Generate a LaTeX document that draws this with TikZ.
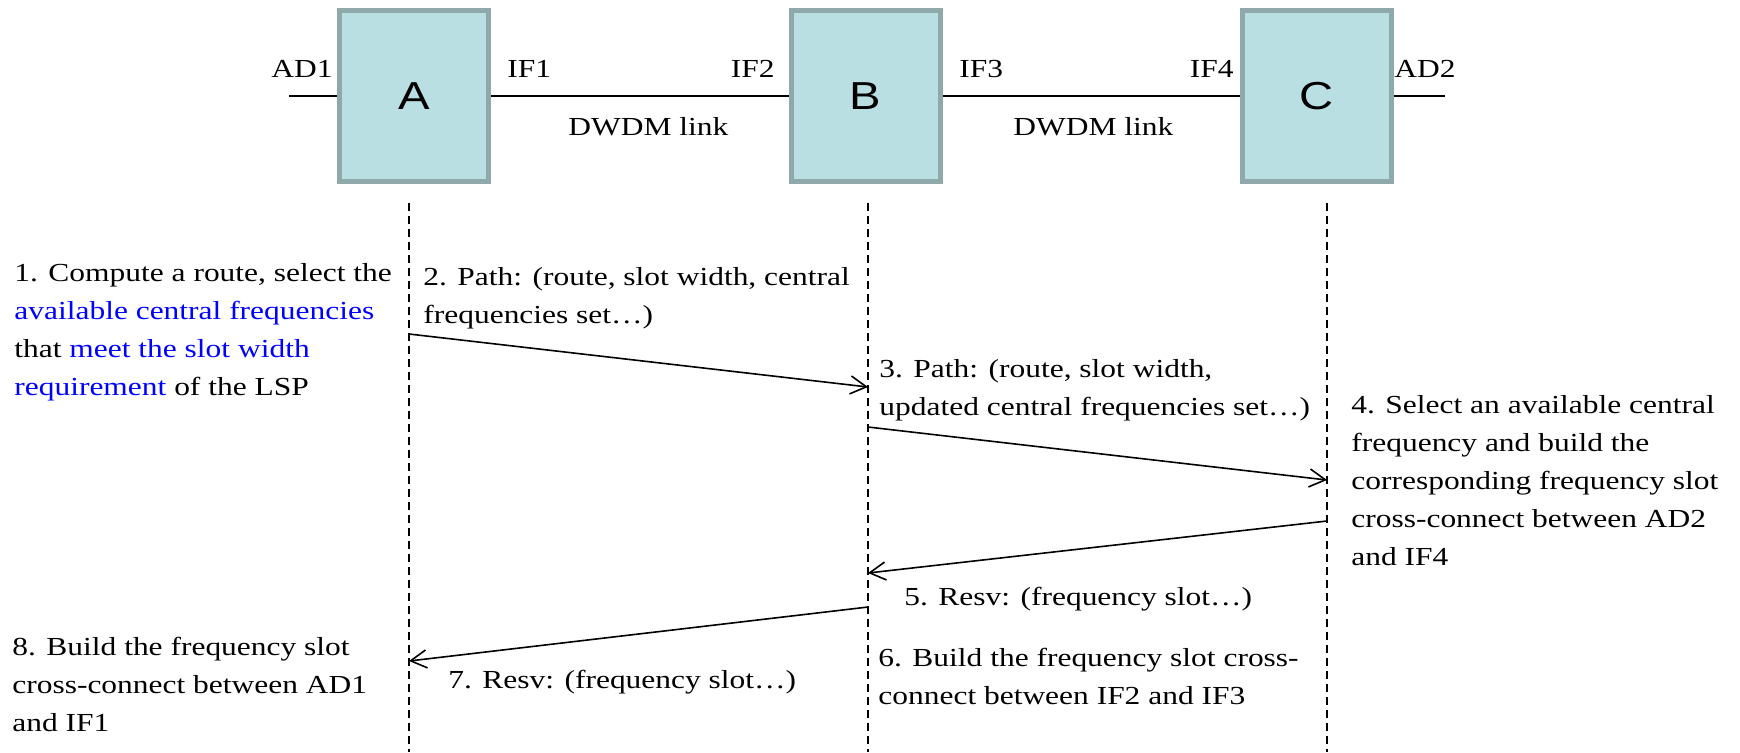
\documentclass[tikz,border=0pt]{standalone}
\usepackage{fontspec}
\setmainfont{Liberation Serif}[FakeStretch=1.21]
\newfontfamily\stationfont{Liberation Sans}[FakeStretch=1.21]
\usetikzlibrary{arrows.meta}

\definecolor{boxfill}{RGB}{186,223,227}
\definecolor{boxline}{RGB}{143,168,170}

\tikzset{
  station/.style={rectangle, draw=boxline, fill=boxfill, line width=2.5pt,
    minimum width=74.5pt, minimum height=85.5pt, inner sep=0pt,
    font=\stationfont\fontsize{19.5}{23}\selectfont},
  txt/.style={anchor=base west, inner sep=0pt, align=left},
  port/.style={inner sep=0pt},
  lifeline/.style={dash pattern=on 4pt off 2.5pt, line width=0.6pt},
  msg/.style={line width=0.8pt, -{Straight Barb[length=8pt,width=9pt]}}
}

\begin{document}
\begin{tikzpicture}[x=0.5pt, y=-0.5pt, every node/.append style={font=\fontsize{13}{19}\selectfont}]
	\useasboundingbox (0,0) rectangle (1740,752);
	
	% the three nodes
	\foreach \name/\x in {A/414, B/865.5, C/1316.5} {
		\node[station] (node\name) at (\x,96) {\name};
	}
	
	% links between the nodes
	\coordinate (ad1) at (289,96);
	\coordinate (ad2) at (1445,96);
	\draw[line width=1pt] (ad1) -- (nodeA.west);
	\draw[line width=1pt] (nodeA.east) -- (nodeB.west);
	\draw[line width=1pt] (nodeB.east) -- (nodeC.west);
	\draw[line width=1pt] (nodeC.east) -- (ad2);
	
	\node[port, anchor=base east] (lblAD1) at (333,77) {AD1};
	\node[port, anchor=base west] (lblIF1) at (507,77) {IF1};
	\node[port, anchor=base east] (lblIF2) at (775,77) {IF2};
	\node[port, anchor=base west] (lblIF3) at (959,77) {IF3};
	\node[port, anchor=base east] (lblIF4) at (1234,77) {IF4};
	\node[port, anchor=base west] (lblAD2) at (1394,77) {AD2};
	\node[txt] (link1) at (568,135) {DWDM link};
	\node[txt] (link2) at (1013,135) {DWDM link};
	
	% lifelines
	\foreach \name/\x in {A/409, B/868, C/1327} {
		\coordinate (top\name) at (\x,203);
		\coordinate (bot\name) at (\x,752);
		\draw[lifeline] (top\name) -- (bot\name);
	}
	
	% signalling messages
	\coordinate (pathA) at (409,334);
	\coordinate (pathB) at (868,387);
	\coordinate (path2B) at (868,427);
	\coordinate (path2C) at (1327,480);
	\coordinate (resvC) at (1327,521);
	\coordinate (resvB) at (868,573);
	\coordinate (resv2B) at (868,607);
	\coordinate (resv2A) at (409,661);
	\draw[msg] (pathA) -- (pathB);
	\draw[msg] (path2B) -- (path2C);
	\draw[msg] (resvC) -- (resvB);
	\draw[msg] (resv2B) -- (resv2A);
	
	% step descriptions (placed at the baseline of their last line)
	\node[txt] (step1) at (14,395) {1. Compute a route, select the\\
		\textcolor{blue}{available central frequencies}\\
		that \textcolor{blue}{meet the slot width}\\
		\textcolor{blue}{requirement} of the LSP};
	\node[txt] (step2) at (423,323) {2. Path: (route, slot width, central\\frequencies set…)};
	\node[txt] (step3) at (879,415) {3. Path: (route, slot width,\\updated central frequencies set…)};
	\node[txt] (step4) at (1351,565) {4. Select an available central\\frequency and build the\\corresponding frequency slot\\cross-connect between AD2\\and IF4};
	\node[txt] (step5) at (904,605) {5. Resv: (frequency slot…)};
	\node[txt] (step6) at (878,704) {6. Build the frequency slot cross-\\connect between IF2 and IF3};
	\node[txt] (step7) at (448,688) {7. Resv: (frequency slot…)};
	\node[txt] (step8) at (12,731) {8. Build the frequency slot\\cross-connect between AD1\\and IF1};
\end{tikzpicture}
\end{document}
